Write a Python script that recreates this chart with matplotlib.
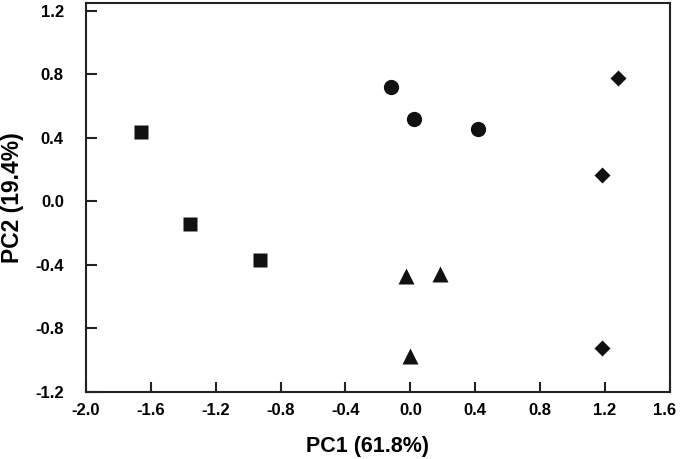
import numpy as np
import matplotlib.pyplot as plt
from matplotlib.transforms import ScaledTranslation

plt.rcParams['font.family'] = ['Liberation Sans', 'DejaVu Sans']
plt.rcParams['font.weight'] = 'bold'

# PCA scores, one group per marker shape
sq_x = [-1.66, -1.36, -0.93]
sq_y = [0.44, -0.145, -0.37]

circ_x = [-0.12, 0.025, 0.415]
circ_y = [0.72, 0.52, 0.455]

dia_x = [1.28, 1.18, 1.18]
dia_y = [0.775, 0.165, -0.925]

tri_x = [-0.025, 0.185, 0.0]
tri_y = [-0.47, -0.46, -0.975]

xticks = [-2.0, -1.6, -1.2, -0.8, -0.4, 0.0, 0.4, 0.8, 1.2, 1.6]
yticks = [-1.2, -0.8, -0.4, 0.0, 0.4, 0.8, 1.2]

fig = plt.figure(figsize=(6.8, 4.59), dpi=100)
ax = fig.add_axes([0.1265, 0.146, 0.8585, 0.8475])

col = '#111111'
ax.plot(sq_x, sq_y, 's', color=col, ms=10, mec='none')
ax.plot(circ_x, circ_y, 'o', color=col, ms=11, mec='none')
ax.plot(dia_x, dia_y, 'D', color=col, ms=8.5, mec='none')
ax.plot(tri_x, tri_y, '^', color=col, ms=12, mec='none')

ax.set_xlim(-2.0, 1.6)
ax.set_ylim(-1.2, 1.25)
ax.set_xticks(xticks)
ax.set_yticks(yticks)
ax.set_xticklabels(['%.1f' % v for v in xticks])
ax.set_yticklabels(['%.1f' % v for v in yticks])

for s in ax.spines.values():
    s.set_linewidth(1.5)
    s.set_color('#222222')

ax.tick_params(axis='x', direction='in', length=7, width=1.5, pad=8,
               labelsize=12, color='#222222')
ax.tick_params(axis='y', direction='in', length=8, width=1.5, pad=16,
               labelsize=12, color='#222222')
for lab in ax.get_xticklabels() + ax.get_yticklabels():
    lab.set_fontweight('bold')

# last x label sits a bit left so it stays inside the figure
last = ax.get_xticklabels()[-1]
last.set_transform(last.get_transform() +
                   ScaledTranslation(-4 / 72, 0, fig.dpi_scale_trans))

ax.set_xlabel('PC1 (61.8%)', fontsize=15.5, fontweight='bold')
ax.set_ylabel('PC2 (19.4%)', fontsize=16.5, fontweight='bold')
ax.xaxis.set_label_coords(0.483, -0.114)
ax.yaxis.set_label_coords(-0.106, 0.5)

fig.savefig('out.png', dpi=100)
